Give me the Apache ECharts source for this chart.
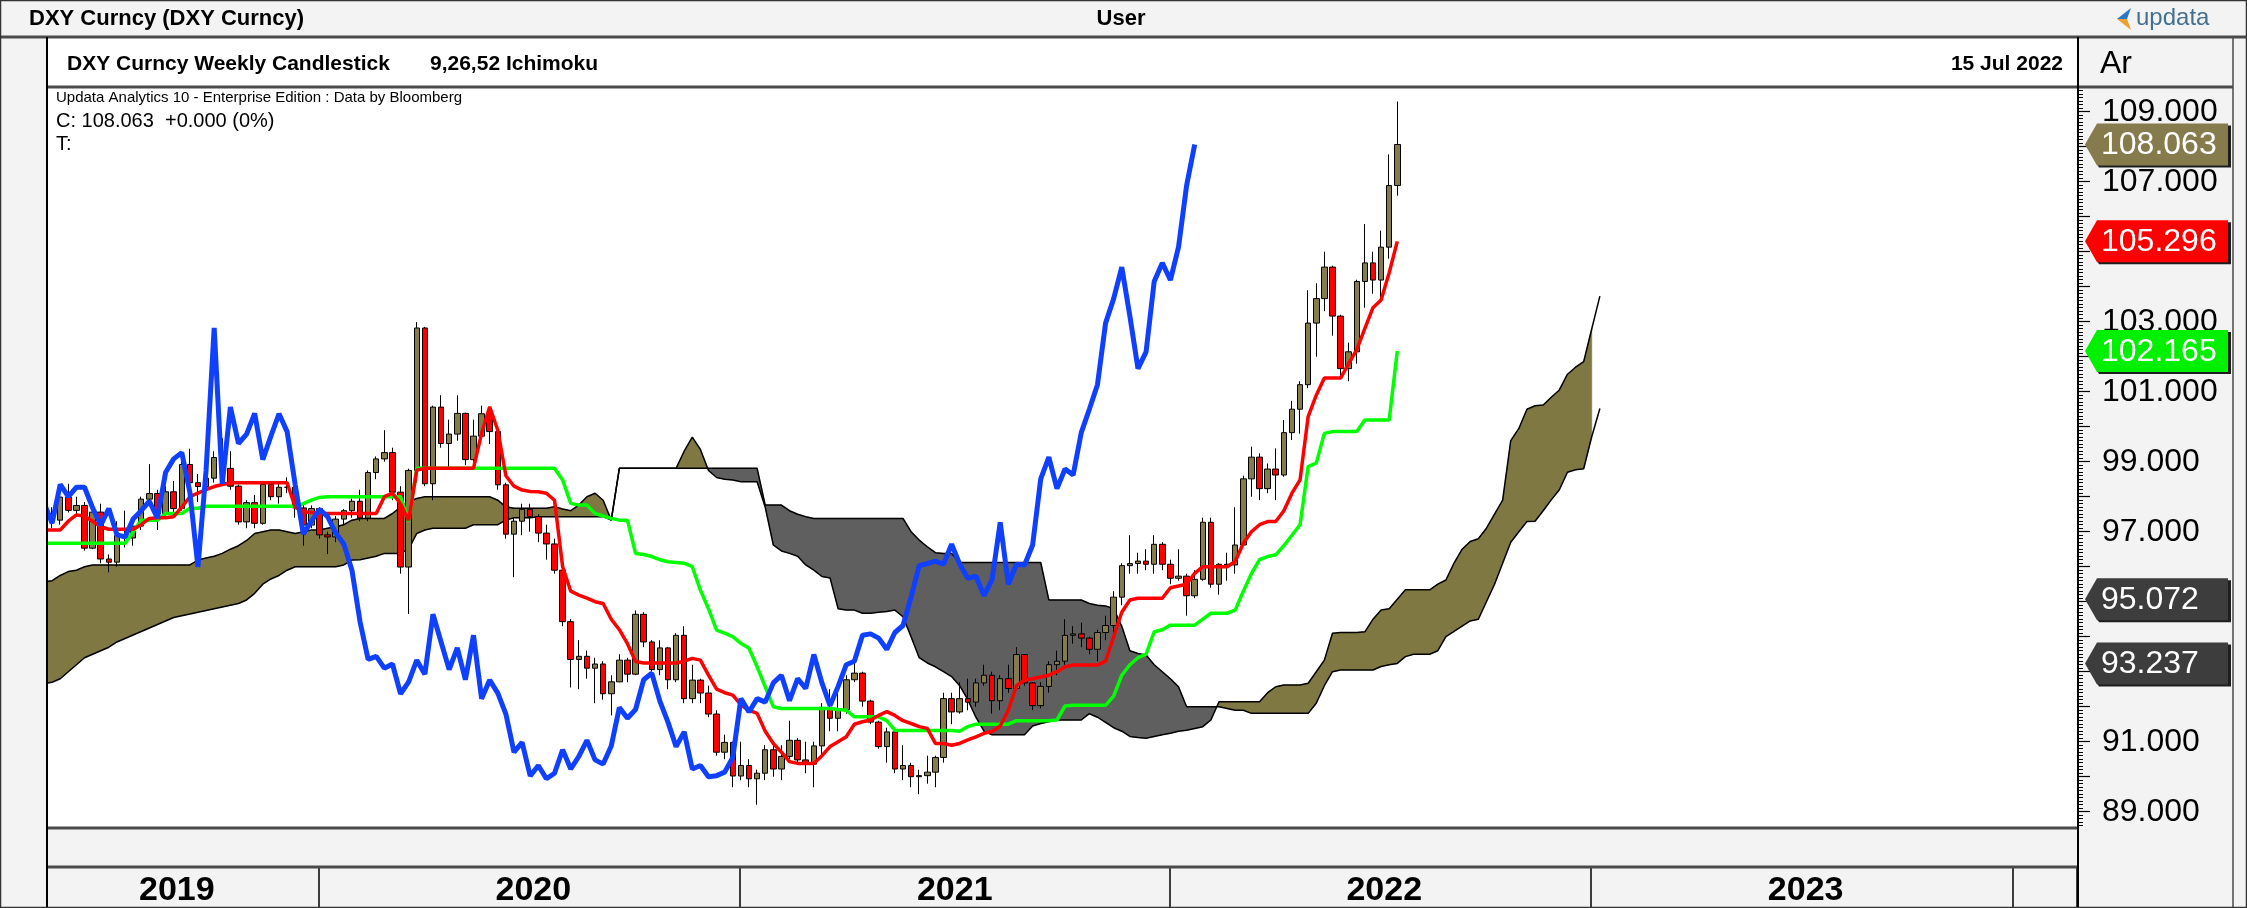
<!DOCTYPE html>
<html>
<head>
<meta charset="utf-8">
<title>DXY Curncy Weekly Ichimoku</title>
<script src="https://cdn.jsdelivr.net/npm/echarts@6/dist/echarts.min.js"></script>
<style>
  html, body { margin: 0; padding: 0; background: #ffffff; }
  #chart { width: 2247px; height: 908px; }
</style>
</head>
<body>
<div id="chart"></div>
<script>
// weekly candles from 2019-05-03, one category per Friday
let firstWeek = Date.UTC(2019, 4, 3);
let weekCount = 252;
let weeks = [];
for (let i = 0; i < weekCount; i++) {
  weeks.push(new Date(firstWeek + i * 7 * 86400000).toISOString().slice(0, 10));
}

let opens = [
  98.00, 97.52, 97.33, 97.99, 97.61, 97.75, 96.53, 97.56, 96.22, 96.13,
  96.89, 96.82, 97.16, 97.93, 98.09, 97.52, 98.14, 97.66, 98.92, 98.40,
  98.29, 98.53, 99.12, 98.81, 98.30, 97.28, 97.83, 97.24, 98.35, 98.00,
  98.27, 98.27, 97.68, 97.19, 97.66, 96.91, 96.85, 97.36, 97.60, 97.87,
  97.39, 98.69, 99.08, 99.26, 98.13, 95.99, 98.75, 102.82, 98.37, 100.56,
  99.52, 99.79, 100.38, 99.06, 99.73, 100.37, 99.86, 98.34, 96.93, 97.30,
  97.64, 97.43, 96.96, 96.65, 95.90, 94.43, 93.35, 93.44, 93.10, 93.22,
  92.37, 92.71, 93.33, 92.93, 94.64, 93.85, 93.06, 93.68, 92.77, 94.04,
  92.23, 92.76, 92.39, 91.79, 90.70, 90.98, 90.02, 90.32, 89.94, 90.10,
  90.77, 90.22, 90.58, 91.04, 90.48, 90.36, 90.88, 91.98, 91.67, 91.92,
  92.77, 92.96, 92.16, 91.56, 90.86, 91.28, 90.22, 90.32, 90.00, 90.03,
  90.13, 90.55, 92.23, 91.85, 92.23, 92.13, 92.68, 92.90, 92.17, 92.80,
  92.52, 93.49, 92.68, 92.03, 92.58, 93.20, 93.30, 94.04, 94.08, 93.96,
  93.64, 94.12, 94.32, 95.13, 96.03, 96.09, 96.16, 96.07, 96.64, 96.07,
  95.67, 95.73, 95.17, 95.64, 97.27, 95.50, 96.07, 96.05, 96.62, 98.51,
  99.13, 98.23, 98.79, 98.62, 99.83, 100.50, 101.20, 102.96, 103.66, 104.56,
  103.16, 101.66, 102.14, 104.15, 104.68, 104.19, 105.13, 106.89
];
let closes = [
  97.52, 97.33, 97.99, 97.61, 97.75, 96.53, 97.56, 96.22, 96.13, 96.89,
  96.82, 97.16, 97.93, 98.09, 97.52, 98.14, 97.66, 98.92, 98.40, 98.29,
  98.53, 99.12, 98.81, 98.30, 97.28, 97.83, 97.24, 98.35, 98.00, 98.27,
  98.27, 97.68, 97.19, 97.66, 96.91, 96.85, 97.36, 97.60, 97.87, 97.39,
  98.69, 99.08, 99.26, 98.13, 95.99, 98.75, 102.82, 98.37, 100.56, 99.52,
  99.79, 100.38, 99.06, 99.73, 100.37, 99.86, 98.34, 96.93, 97.30, 97.64,
  97.43, 96.96, 96.65, 95.90, 94.43, 93.35, 93.44, 93.10, 93.22, 92.37,
  92.71, 93.33, 92.93, 94.64, 93.85, 93.06, 93.68, 92.77, 94.04, 92.23,
  92.76, 92.39, 91.79, 90.70, 90.98, 90.02, 90.32, 89.94, 90.10, 90.77,
  90.22, 90.58, 91.04, 90.48, 90.36, 90.88, 91.98, 91.67, 91.92, 92.77,
  92.96, 92.16, 91.56, 90.86, 91.28, 90.22, 90.32, 90.00, 90.03, 90.13,
  90.55, 92.23, 91.85, 92.23, 92.13, 92.68, 92.90, 92.17, 92.80, 92.52,
  93.49, 92.68, 92.03, 92.58, 93.20, 93.30, 94.04, 94.08, 93.96, 93.64,
  94.12, 94.32, 95.13, 96.03, 96.09, 96.16, 96.07, 96.64, 96.07, 95.67,
  95.73, 95.17, 95.64, 97.27, 95.50, 96.07, 96.05, 96.62, 98.51, 99.13,
  98.23, 98.79, 98.62, 99.83, 100.50, 101.20, 102.96, 103.66, 104.56, 103.16,
  101.66, 102.14, 104.15, 104.68, 104.19, 105.13, 106.89, 108.063
];
let lows = [
  97.30, 97.10, 97.20, 97.55, 97.50, 96.46, 96.50, 96.10, 95.84, 96.00,
  96.55, 96.60, 97.05, 97.80, 97.05, 97.40, 97.50, 97.60, 98.20, 97.85,
  98.00, 98.40, 98.60, 98.20, 97.20, 97.10, 97.10, 97.20, 97.90, 97.80,
  98.10, 97.40, 96.60, 97.10, 96.80, 96.36, 96.70, 97.20, 97.40, 97.30,
  97.30, 98.50, 99.00, 97.90, 95.80, 94.65, 98.40, 98.30, 97.90, 99.40,
  98.80, 99.60, 98.90, 99.00, 99.70, 99.50, 98.20, 96.80, 95.70, 96.90,
  97.00, 96.70, 96.20, 95.80, 94.30, 92.55, 92.50, 92.80, 92.10, 92.20,
  91.75, 92.70, 92.70, 92.90, 93.70, 93.00, 92.90, 92.50, 92.70, 92.10,
  92.10, 92.10, 91.70, 90.60, 90.50, 89.70, 89.90, 89.70, 89.20, 89.90,
  90.00, 89.90, 90.50, 90.40, 90.10, 89.70, 90.60, 91.30, 91.30, 91.80,
  92.70, 92.00, 91.50, 90.80, 90.40, 90.10, 89.90, 89.70, 89.50, 89.80,
  89.70, 90.40, 91.50, 91.80, 91.90, 92.00, 92.60, 91.80, 91.90, 92.40,
  92.50, 92.60, 91.90, 91.95, 92.40, 92.90, 93.20, 93.80, 93.70, 93.50,
  93.30, 93.90, 94.00, 94.90, 95.80, 95.80, 95.90, 95.80, 95.90, 95.50,
  95.60, 94.60, 95.10, 95.60, 95.40, 95.20, 95.60, 95.80, 96.60, 98.00,
  97.90, 98.10, 97.90, 98.57, 99.62, 99.80, 101.10, 102.00, 103.30, 102.60,
  101.40, 101.30, 101.80, 103.40, 103.80, 103.70, 104.80, 106.60
];
let highs = [
  98.30, 97.70, 98.05, 98.37, 98.00, 97.85, 97.60, 97.80, 96.35, 97.30,
  97.60, 97.30, 98.00, 98.93, 98.20, 98.30, 98.45, 99.00, 99.37, 98.65,
  98.70, 99.30, 99.67, 99.30, 98.35, 97.90, 98.05, 98.45, 98.45, 98.45,
  98.55, 98.30, 97.80, 97.75, 97.70, 97.00, 97.45, 97.65, 97.95, 98.20,
  98.75, 99.15, 99.90, 99.40, 98.30, 98.80, 102.99, 102.85, 100.60, 100.90,
  100.20, 100.90, 100.40, 100.20, 100.60, 100.40, 100.00, 98.40, 97.40, 97.80,
  97.80, 97.50, 97.20, 96.80, 95.95, 94.50, 93.90, 93.60, 93.40, 93.30,
  92.90, 93.50, 93.40, 94.75, 94.70, 93.90, 93.90, 93.70, 94.10, 94.30,
  93.20, 92.80, 92.60, 91.90, 91.20, 91.00, 91.00, 90.50, 90.20, 90.90,
  90.90, 90.90, 91.60, 91.10, 91.00, 91.00, 92.10, 92.50, 92.40, 92.90,
  93.40, 93.00, 92.20, 91.60, 91.40, 91.40, 90.90, 90.40, 90.20, 90.60,
  90.60, 92.40, 92.40, 92.70, 92.80, 92.80, 93.20, 93.00, 92.90, 93.20,
  93.70, 93.50, 92.70, 92.70, 93.30, 93.60, 94.50, 94.30, 94.40, 94.00,
  94.20, 94.60, 95.30, 96.10, 96.90, 96.40, 96.50, 96.90, 96.70, 96.20,
  96.50, 95.80, 95.90, 97.40, 97.40, 96.10, 96.40, 97.70, 98.60, 99.43,
  99.24, 98.95, 99.38, 100.19, 100.74, 101.30, 103.90, 104.10, 105.00, 104.60,
  103.20, 102.40, 104.20, 105.79, 105.00, 105.60, 107.78, 109.29
];

// conversion line (9) - red
let tenkan = [
  97.05, 97.05, 97.05, 97.30, 97.48, 97.45, 97.30, 97.14, 97.07, 97.07,
  97.07, 97.07, 97.20, 97.38, 97.40, 97.40, 97.43, 97.70, 98.00, 98.10,
  98.20, 98.29, 98.35, 98.40, 98.40, 98.40, 98.40, 98.40, 98.40, 98.40,
  98.40, 97.70, 97.57, 97.55, 97.52, 97.52, 97.52, 97.52, 97.52, 97.52,
  97.52, 97.52, 98.00, 98.10, 97.80, 97.33, 98.76, 98.81, 98.81, 98.81,
  98.81, 98.81, 98.81, 98.81, 99.81, 100.57, 99.90, 98.60, 98.30, 98.19,
  98.15, 98.14, 98.10, 97.90, 96.00, 95.30, 95.19, 95.10, 95.00, 94.95,
  94.50, 94.20, 93.80, 93.29, 93.25, 93.25, 93.25, 93.25, 93.25, 93.30,
  93.38, 93.33, 92.90, 92.50, 92.40, 92.33, 92.05, 91.90, 91.81, 91.30,
  90.95, 90.70, 90.43, 90.38, 90.38, 90.38, 90.60, 90.86, 91.00, 91.14,
  91.50, 91.57, 91.62, 91.75, 91.86, 91.75, 91.60, 91.52, 91.43, 91.38,
  90.95, 90.95, 90.90, 90.95, 91.05, 91.14, 91.24, 91.29, 91.45, 91.90,
  92.60, 92.76, 92.80, 92.85, 92.90, 93.00, 93.14, 93.19, 93.19, 93.19,
  93.19, 93.30, 94.00, 94.70, 95.05, 95.10, 95.10, 95.10, 95.10, 95.40,
  95.45, 95.50, 95.81, 96.00, 96.00, 96.00, 96.00, 96.15, 96.67, 97.00,
  97.20, 97.29, 97.29, 97.60, 98.10, 98.48, 100.29, 100.90, 101.39, 101.39,
  101.39, 101.80, 102.20, 102.81, 103.40, 103.62, 104.40, 105.296
];
// base line (26) - green
let kijun = [
  96.67, 96.67, 96.67, 96.67, 96.67, 96.67, 96.67, 96.67, 96.67, 96.67,
  96.67, 97.00, 97.33, 97.33, 97.33, 97.52, 97.52, 97.52, 97.67, 97.67,
  97.73, 97.73, 97.73, 97.73, 97.73, 97.73, 97.73, 97.73, 97.73, 97.73,
  97.73, 97.73, 97.80, 97.90, 97.98, 98.00, 98.00, 98.00, 98.00, 98.00,
  98.00, 98.00, 98.00, 98.00, 98.00, 97.30, 98.81, 98.81, 98.81, 98.81,
  98.81, 98.81, 98.81, 98.81, 98.81, 98.81, 98.81, 98.81, 98.81, 98.81,
  98.81, 98.81, 98.81, 98.81, 98.48, 97.81, 97.76, 97.76, 97.52, 97.45,
  97.38, 97.33, 97.33, 96.38, 96.35, 96.29, 96.20, 96.14, 96.12, 96.10,
  96.00, 95.33, 94.80, 94.19, 94.10, 94.00, 93.81, 93.67, 93.14, 92.57,
  92.00, 91.95, 91.95, 91.95, 91.95, 91.95, 91.95, 91.95, 91.92, 91.90,
  91.71, 91.71, 91.71, 91.71, 91.60, 91.33, 91.32, 91.32, 91.32, 91.32,
  91.32, 91.32, 91.32, 91.30, 91.43, 91.50, 91.50, 91.50, 91.50, 91.50,
  91.60, 91.60, 91.60, 91.60, 91.60, 91.62, 92.02, 92.04, 92.04, 92.04,
  92.04, 92.04, 92.30, 92.90, 93.20, 93.40, 93.50, 94.14, 94.20, 94.33,
  94.33, 94.33, 94.33, 94.50, 94.67, 94.67, 94.67, 94.76, 95.30, 95.80,
  96.20, 96.29, 96.34, 96.60, 96.90, 97.20, 98.86, 98.96, 99.81, 99.86,
  99.86, 99.86, 99.86, 100.19, 100.19, 100.19, 100.19, 102.165
];
// leading span A and B, already plotted 25 weeks ahead
let spanA = [
  95.57, 95.60, 95.75, 95.86, 95.90, 96.00, 96.05, 96.05, 96.05, 96.05,
  96.05, 96.05, 96.05, 96.05, 96.05, 96.05, 96.05, 96.05, 96.05, 96.19,
  96.25, 96.30, 96.38, 96.50, 96.60, 96.75, 96.95, 97.00, 97.05, 97.05,
  97.00, 96.95, 97.00, 97.05, 97.05, 97.10, 97.14, 97.20, 97.33, 97.38,
  97.38, 97.38, 97.38, 97.52, 97.70, 97.86, 97.95, 98.00, 98.00, 98.00,
  98.00, 98.00, 98.00, 98.00, 98.00, 98.00, 97.90, 97.71, 97.67, 97.67,
  97.67, 97.67, 97.67, 97.71, 97.65, 97.60, 97.76, 98.00, 98.10, 97.90,
  97.33, 98.81, 98.81, 98.81, 98.81, 98.81, 98.81, 98.81, 98.81, 99.30,
  99.70, 99.35, 98.75, 98.55, 98.50, 98.48, 98.43, 98.43, 98.43, 97.70,
  96.62, 96.45, 96.38, 96.30, 96.05, 95.90, 95.72, 95.68, 94.80, 94.76,
  94.76, 94.67, 94.67, 94.70, 94.72, 94.76, 94.57, 94.00, 93.40, 93.25,
  93.14, 93.00, 92.86, 92.60, 92.20, 91.70, 91.30, 91.20, 91.20, 91.20,
  91.20, 91.20, 91.45, 91.52, 91.57, 91.62, 91.62, 91.62, 91.62, 91.80,
  91.70, 91.55, 91.40, 91.30, 91.15, 91.12, 91.10, 91.15, 91.20, 91.24,
  91.30, 91.33, 91.38, 91.43, 91.62, 92.14, 92.14, 92.14, 92.14, 92.14,
  92.14, 92.40, 92.57, 92.62, 92.62, 92.62, 92.67, 93.00, 93.33, 94.10,
  94.12, 94.12, 94.12, 94.14, 94.50, 94.76, 94.80, 95.072, 95.34, 95.34,
  95.34, 95.34, 95.50, 95.62, 96.10, 96.50, 96.72, 96.80, 97.10, 97.50,
  97.90, 99.60, 99.95, 100.50, 100.60, 100.62, 100.84, 101.05, 101.50, 101.70,
  101.86, 102.80, 103.73
];
let spanB = [
  92.66, 92.70, 92.80, 93.00, 93.20, 93.40, 93.50, 93.60, 93.70, 93.85,
  93.95, 94.05, 94.15, 94.25, 94.35, 94.45, 94.55, 94.60, 94.65, 94.70,
  94.75, 94.80, 94.85, 94.90, 94.95, 95.05, 95.24, 95.50, 95.65, 95.75,
  95.90, 96.00, 96.00, 96.00, 96.00, 96.00, 96.00, 96.05, 96.19, 96.20,
  96.25, 96.30, 96.38, 96.38, 96.38, 96.50, 96.95, 97.05, 97.10, 97.10,
  97.10, 97.10, 97.10, 97.20, 97.20, 97.20, 97.20, 97.33, 97.40, 97.40,
  97.40, 97.43, 97.43, 97.43, 97.43, 97.43, 97.43, 97.43, 97.43, 97.43,
  97.33, 98.81, 98.81, 98.81, 98.81, 98.81, 98.81, 98.81, 98.81, 98.81,
  98.81, 98.81, 98.81, 98.81, 98.81, 98.81, 98.81, 98.81, 98.81, 97.76,
  97.76, 97.76, 97.60, 97.50, 97.43, 97.38, 97.38, 97.38, 97.38, 97.38,
  97.38, 97.38, 97.38, 97.38, 97.38, 97.38, 97.38, 97.00, 96.76, 96.57,
  96.40, 96.38, 96.38, 96.12, 96.12, 96.12, 96.12, 96.12, 96.12, 96.12,
  96.12, 96.12, 96.12, 96.12, 95.05, 95.05, 95.05, 95.05, 95.05, 94.95,
  94.90, 94.88, 94.80, 94.30, 93.60, 93.52, 93.48, 93.20, 93.00, 92.80,
  92.57, 92.00, 92.00, 92.00, 92.00, 92.00, 91.95, 91.90, 91.90, 91.81,
  91.81, 91.81, 91.81, 91.81, 91.81, 91.81, 91.81, 92.10, 92.60, 93.00,
  93.05, 93.05, 93.05, 93.05, 93.05, 93.15, 93.20, 93.237, 93.43, 93.50,
  93.50, 93.50, 93.60, 94.00, 94.15, 94.30, 94.45, 94.50, 95.00, 95.50,
  96.10, 96.70, 97.00, 97.29, 97.30, 97.60, 97.91, 98.20, 98.70, 98.77,
  98.80, 99.72, 100.52
];
// lagging span: the close drawn 25 weeks back
let lagWeeks = 25;

let OLIVE = "#7f7843";
let CANDLE_UP = "#857c49";
let CLOUD_DOWN = "#5f5f5f";
let PANEL = "#f3f3f3";
let RULE = "#4a4a4a";
let FONT = '"Liberation Sans", Arial, sans-serif';

let last = closes.length - 1;
let candleData = closes.map((c, i) => [opens[i], c, lows[i], highs[i]]);
let chikou = closes.slice(lagWeeks);
// the fill stops one week before the span lines do
let cloudEnd = spanA.length - 2;

// label the middle week of each year that is mostly on screen
let yearMid = {};
let yearRange = {};
weeks.forEach((w, i) => {
  let y = w.slice(0, 4);
  if (!yearRange[y]) yearRange[y] = [i, i];
  yearRange[y][1] = i;
});
Object.keys(yearRange).forEach((y) => {
  let r = yearRange[y];
  if (r[1] - r[0] >= 12) yearMid[Math.round((r[0] + r[1]) / 2)] = y;
});
let isYearStart = (w) => w.slice(5, 7) === "01" && Number(w.slice(8, 10)) <= 7;

// one polygon per run where the same span is on top, split at the crossings
function renderCloud(params, api) {
  let shapes = [];
  let upper = [], lower = [], sign = 0;
  let prevA = null, prevD = 0;
  let flush = () => {
    if (upper.length > 1) {
      let fill = sign >= 0 ? OLIVE : CLOUD_DOWN;
      shapes.push({
        type: "polygon",
        shape: { points: upper.concat(lower.slice().reverse()) },
        style: { fill: fill, stroke: fill, lineWidth: 0.5 },
      });
    }
  };
  for (let i = 0; i <= cloudEnd; i++) {
    let a = api.coord([i, spanA[i]]);
    let b = api.coord([i, spanB[i]]);
    let d = spanA[i] - spanB[i];
    let s = d > 0 ? 1 : d < 0 ? -1 : 0;
    if (prevA && s !== 0 && sign !== 0 && s !== sign) {
      let t = prevD / (prevD - d);
      let c = [prevA[0] + t * (a[0] - prevA[0]), prevA[1] + t * (a[1] - prevA[1])];
      upper.push(c);
      lower.push(c);
      flush();
      upper = [c];
      lower = [c];
    }
    upper.push(a);
    lower.push(b);
    if (s !== 0) sign = s;
    prevA = a;
    prevD = d;
  }
  flush();
  return { type: "group", children: shapes };
}

function rect(x, y, w, h, fill, z) {
  return { type: "rect", silent: true, z: z, shape: { x: x, y: y, width: w, height: h }, style: { fill: fill } };
}
function hline(x1, x2, y, w, color) {
  return { type: "line", silent: true, z: 101, shape: { x1: x1, y1: y, x2: x2, y2: y }, style: { stroke: color, lineWidth: w } };
}
function vline(x, y1, y2, w, color) {
  return { type: "line", silent: true, z: 101, shape: { x1: x, y1: y1, x2: x, y2: y2 }, style: { stroke: color, lineWidth: w } };
}
function text(str, x, y, font, align, fill) {
  return {
    type: "text", silent: true, z: 102, x: x, y: y,
    style: { text: str, font: font, fill: fill || "#000", align: align || "left", verticalAlign: "middle" },
  };
}

let lastDate = new Date(weeks[last] + "T00:00:00Z");
let months = ["Jan", "Feb", "Mar", "Apr", "May", "Jun", "Jul", "Aug", "Sep", "Oct", "Nov", "Dec"];
let dateText = lastDate.getUTCDate() + " " + months[lastDate.getUTCMonth()] + " " + lastDate.getUTCFullYear();

let frame = [
  rect(2078, 88, 169, 740, PANEL, -10),
  rect(47, 867, 2031, 41, PANEL, -10),
  rect(0, 0, 2247, 37, PANEL, 100),
  rect(0, 37, 47, 871, PANEL, 100),
  rect(47, 37, 2031, 51, "#ffffff", 100),
  rect(2078, 37, 169, 51, PANEL, 100),
  rect(47, 828, 2031, 39, PANEL, 100),
  rect(2078, 828, 169, 80, PANEL, 100),
  hline(0, 2247, 37, 3, RULE),
  hline(47, 2233, 87, 3, RULE),
  hline(47, 2078, 828, 3, RULE),
  hline(47, 2078, 867, 3, RULE),
  vline(47, 37, 908, 2, "#000"),
  vline(2078, 37, 908, 2, "#000"),
  vline(2233, 37, 908, 1.5, RULE),
  { type: "rect", silent: true, z: 101, shape: { x: 0.5, y: 0.5, width: 2246, height: 907 }, style: { fill: null, stroke: "#333", lineWidth: 1.5 } },
  text("DXY Curncy (DXY Curncy)", 29, 19, "bold 22px " + FONT),
  text("User", 1121, 19, "bold 22px " + FONT, "center"),
  { type: "polygon", silent: true, z: 102, shape: { points: [[2131, 8], [2117, 19], [2127, 19]] }, style: { fill: "#2a78c8" } },
  { type: "polygon", silent: true, z: 102, shape: { points: [[2117, 19], [2131, 30], [2127, 19]] }, style: { fill: "#f0a030" } },
  text("updata", 2136, 18, "24px " + FONT, "left", "#44708f"),
  text("DXY Curncy Weekly Candlestick", 67, 64, "bold 21px " + FONT),
  text("9,26,52 Ichimoku", 430, 64, "bold 21px " + FONT),
  text(dateText, 2063, 64, "bold 21px " + FONT, "right"),
  text("Ar", 2100, 64, "32px " + FONT),
  text("Updata Analytics 10 - Enterprise Edition : Data by Bloomberg", 56, 98, "15px " + FONT),
  text("C: " + closes[last].toFixed(3) + "  +0.000 (0%)", 56, 121, "20px " + FONT),
  text("T:", 56, 144, "20px " + FONT),
];

let chart = echarts.init(document.getElementById("chart"));
let option = {
  animation: false,
  backgroundColor: "#ffffff",
  grid: [
    { left: 44, right: 169, top: 76.7, bottom: 61.3, containLabel: false, outerBoundsMode: "none" },
    { left: 35, right: 169.9, top: 867, bottom: 0, containLabel: false, outerBoundsMode: "none" },
  ],
  xAxis: [
    { type: "category", gridIndex: 0, data: weeks, boundaryGap: false, show: false },
    {
      type: "category",
      gridIndex: 1,
      data: weeks,
      boundaryGap: true,
      axisLine: { show: false },
      axisTick: { show: false },
      splitLine: {
        show: true,
        interval: (i, w) => isYearStart(w),
        lineStyle: { color: "#000", width: 1.5 },
      },
      axisLabel: {
        show: true,
        inside: true,
        margin: 17,
        verticalAlign: "middle",
        interval: (i) => yearMid[i] !== undefined,
        formatter: (w, i) => yearMid[i] || "",
        color: "#000",
        fontSize: 34,
        fontWeight: "bold",
        fontFamily: FONT,
      },
    },
  ],
  yAxis: [
    {
      type: "value",
      gridIndex: 0,
      position: "right",
      min: 88,
      max: 110,
      interval: 1,
      axisLine: { show: true, lineStyle: { color: "#000", width: 1.5 } },
      axisTick: { show: true, length: 12, lineStyle: { color: "#000", width: 1.2 } },
      minorTick: { show: true, splitNumber: 10, length: 5, lineStyle: { color: "#000", width: 1 } },
      splitLine: { show: false },
      axisLabel: {
        margin: 24,
        color: "#000",
        fontSize: 32,
        fontFamily: FONT,
        formatter: (v) => (Math.abs((v % 2) - 1) < 1e-6 ? v.toFixed(3) : ""),
      },
    },
    { type: "value", gridIndex: 1, show: false, min: 0, max: 1 },
  ],
  series: [
    {
      name: "Cloud",
      type: "custom",
      xAxisIndex: 0,
      yAxisIndex: 0,
      z: 1,
      silent: true,
      renderItem: renderCloud,
      encode: { x: 0, y: 1 },
      data: [[0, spanA[0]]],
    },
    {
      name: "Span A", type: "line", z: 2, silent: true, data: spanA, symbol: "none",
      lineStyle: { color: "#000", width: 1.5 },
    },
    {
      name: "Span B", type: "line", z: 2, silent: true, data: spanB, symbol: "none",
      lineStyle: { color: "#000", width: 1.5 },
    },
    {
      name: "DXY", type: "candlestick", z: 3, silent: true, data: candleData, barWidth: 6,
      itemStyle: {
        color: CANDLE_UP, color0: "#ff0000",
        borderColor: "#000", borderColor0: "#000", borderColorDoji: "#000", borderWidth: 1,
      },
    },
    {
      name: "Kijun", type: "line", z: 4, silent: true, data: kijun, symbol: "none",
      lineStyle: { color: "#00ff00", width: 3.5 },
    },
    {
      name: "Tenkan", type: "line", z: 4, silent: true, data: tenkan, symbol: "none",
      lineStyle: { color: "#ff0000", width: 3.5 },
    },
    {
      name: "Chikou", type: "line", z: 5, silent: true, data: chikou, symbol: "none",
      lineStyle: { color: "#1040ff", width: 5 },
    },
  ],
  graphic: frame,
};
chart.setOption(option);

// last-value tags on the price axis
function priceTag(value, fill) {
  let y = chart.convertToPixel({ yAxisIndex: 0 }, value);
  return {
    type: "group", silent: true, z: 110,
    children: [
      { type: "polygon", z: 110, shape: { points: [[2087, y + 2], [2099, y - 19], [2231, y - 19], [2231, y + 23], [2099, y + 23]] }, style: { fill: "#1e1e1e" } },
      { type: "polygon", z: 111, shape: { points: [[2085, y], [2097, y - 21], [2228, y - 21], [2228, y + 21], [2097, y + 21]] }, style: { fill: fill } },
      { type: "text", z: 112, x: 2101, y: y + 1, style: { text: value.toFixed(3), font: "32px " + FONT, fill: "#ffffff", verticalAlign: "middle" } },
    ],
  };
}
option.graphic = frame.concat([
  priceTag(closes[last], "#867b4c"),
  priceTag(tenkan[last], "#ff0000"),
  priceTag(kijun[last], "#00f000"),
  priceTag(spanA[last], "#3d3d3d"),
  priceTag(spanB[last], "#3d3d3d"),
]);
chart.setOption(option, true);
</script>
</body>
</html>
